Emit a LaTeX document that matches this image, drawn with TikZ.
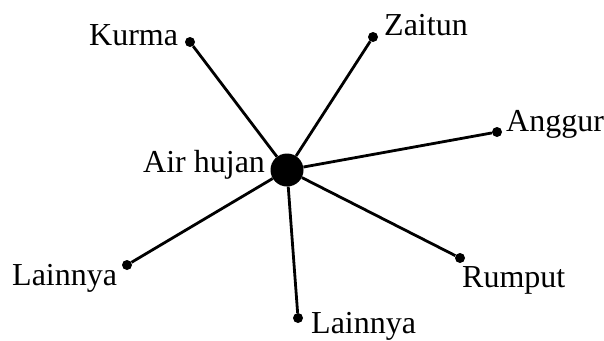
\documentclass[tikz,border=0pt]{standalone}
\usepackage{fontspec}
\setmainfont{Liberation Serif}
\begin{document}
\begin{tikzpicture}[x=1pt,y=-1pt,
  hub/.style={circle,fill=black,inner sep=0pt,minimum size=33pt},
  leaf/.style={circle,fill=black,inner sep=0pt,minimum size=10pt},
  lbl/.style={anchor=base west,inner sep=0pt,font=\fontsize{32}{32}\selectfont},
  spoke/.style={line width=2.8pt}]
\useasboundingbox (0,0) rectangle (604,340);
% hub and leaves
\node[hub] (c) at (287,170) {};
\node[leaf] (kurma) at (190,42) {};
\node[leaf] (zaitun) at (373,37) {};
\node[leaf] (anggur) at (497,132) {};
\node[leaf] (rumput) at (460,258) {};
\node[leaf] (lainb) at (298,318) {};
\node[leaf] (lainl) at (127,265) {};
% spokes
\foreach \n in {kurma,zaitun,anggur,rumput,lainb,lainl}
  \draw[spoke] (c) -- (\n);
% labels
\node[lbl] (tc) at (143,172) {Air hujan};
\node[lbl] (tk) at (89,45) {Kurma};
\node[lbl] (tz) at (384,35) {Zaitun};
\node[lbl] (ta) at (506,131) {Anggur};
\node[lbl] (tr) at (462,287) {Rumput};
\node[lbl] (tb) at (311,333) {Lainnya};
\node[lbl] (tl) at (12,285) {Lainnya};
\end{tikzpicture}
\end{document}
